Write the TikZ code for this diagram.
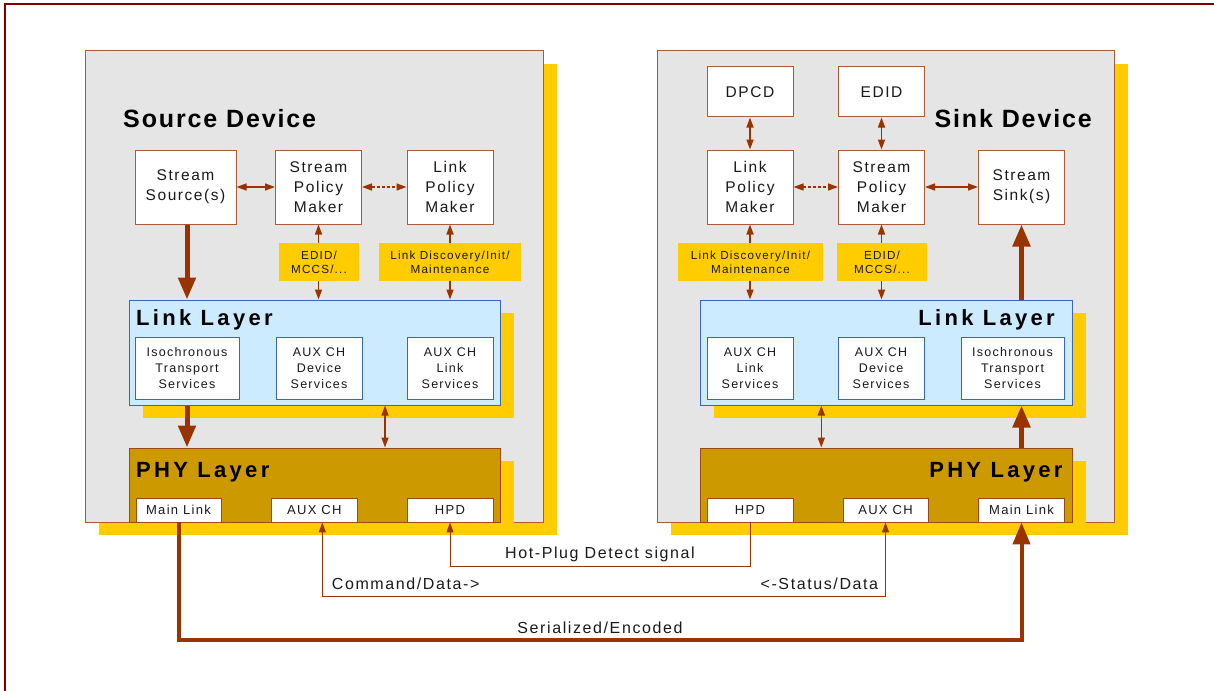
\documentclass[tikz,border=0pt]{standalone}
\usepackage{fontspec}
\setmainfont{Liberation Sans}
\newfontfamily\labelfont[LetterSpace=10]{Liberation Sans}
\newfontfamily\titlefont[LetterSpace=7.5]{Liberation Sans}
\newfontfamily\layerfont[LetterSpace=15]{Liberation Sans}
\usetikzlibrary{arrows.meta, positioning, calc, shadows}

\definecolor{framered}{RGB}{128,0,0}
\definecolor{devgray}{RGB}{229,229,229}
\definecolor{devedge}{RGB}{170,90,55}
\definecolor{goldshadow}{RGB}{255,204,0}
\definecolor{linkblue}{RGB}{204,235,255}
\definecolor{linkedge}{RGB}{60,100,190}
\definecolor{phygold}{RGB}{204,153,0}
\definecolor{phyedge}{RGB}{160,70,20}
\definecolor{arrowbrown}{RGB}{153,51,0}
\definecolor{textgray}{RGB}{25,25,25}

\tikzset{
  wh/.style 2 args={minimum width=#1pt, minimum height=#2pt},
  goldcast/.style={general shadow={shadow xshift=14pt, shadow yshift=-13pt, fill=goldshadow, draw=none}},
  device/.style={draw=devedge, fill=devgray, line width=1pt, inner sep=0pt, goldcast},
  linklayer/.style={draw=linkedge, fill=linkblue, line width=1pt, inner sep=0pt, goldcast},
  phylayer/.style={draw=phyedge, fill=phygold, line width=1pt, inner sep=0pt, goldcast},
  unit/.style={draw=devedge, fill=white, line width=1pt, inner sep=0pt, align=center,
    text=textgray, font=\labelfont\fontsize{15.5}{20}\selectfont},
  service/.style={draw=linkedge, fill=white, line width=1pt, inner sep=0pt, align=center,
    text=textgray, font=\labelfont\fontsize{12.5}{16.3}\selectfont},
  pin/.style={draw=phyedge, fill=white, line width=0.8pt, inner sep=0pt,
    text=textgray, font=\labelfont\fontsize{13}{15}\selectfont},
  tag/.style={fill=goldshadow, inner sep=0pt, align=center,
    text=textgray, font=\labelfont\fontsize{11.7}{14}\selectfont},
  devtitle/.style={inner sep=0pt, font=\titlefont\bfseries\fontsize{25}{30}\selectfont},
  layertitle/.style={inner sep=0pt, font=\layerfont\bfseries\fontsize{22}{26}\selectfont},
  signal/.style={inner sep=0pt, text=textgray, font=\labelfont\fontsize{16}{19}\selectfont},
  link/.style={draw=arrowbrown, line width=1.5pt, {Triangle[length=10pt, width=7pt]}-{Triangle[length=10pt, width=7pt]}},
  softlink/.style={link, dash pattern=on 3pt off 2pt},
  bus/.style={draw=arrowbrown, line width=1pt},
  stream/.style={draw=arrowbrown, line width=5pt, -{Triangle[length=22pt, width=17pt]}},
}

\begin{document}
\begin{tikzpicture}[x=1pt, y=-1pt]
  \useasboundingbox (0,0) rectangle (1214,690);
  \draw[framered, line width=2.5pt] (1220,4) -- (5,4) -- (5,700);

  % source side
  \node[device, wh={458}{471}] (srcdev) at (314,286.5) {};
  \node[devtitle, anchor=base west] (srctitle) at (123,128) {Source Device};
  \node[unit, wh={101}{74}] (ssrc) at (185.5,187) {Stream\\Source(s)};
  \node[unit, wh={86}{74}] (sspm) at (318.5,187) {Stream\\Policy\\Maker};
  \node[unit, wh={86}{74}] (slpm) at (450,187) {Link\\Policy\\Maker};

  \node[linklayer, wh={371}{105}] (slinkl) at (314.5,352.5) {};
  \node[layertitle, anchor=base west] (slinkt) at (136,325) {Link Layer};
  \node[service, wh={104}{62}] (siso) at (187,368) {Isochronous\\Transport\\Services};
  \node[service, wh={86}{62}] (sauxd) at (319,368) {AUX CH\\Device\\Services};
  \node[service, wh={86}{62}] (sauxl) at (450,368) {AUX CH\\Link\\Services};

  \node[phylayer, wh={371}{74}] (sphy) at (314.5,485) {};
  \node[layertitle, anchor=base west] (sphyt) at (136,477.7) {PHY Layer};
  \node[pin, wh={85}{24}] (smain) at (178.5,510) {Main Link};
  \node[pin, wh={86}{24}] (saux) at (314.3,510) {AUX CH};
  \node[pin, wh={86}{24}] (shpd) at (450,510) {HPD};

  \draw[link] (ssrc.east) -- (sspm.west);
  \draw[softlink] (sspm.east) -- (slpm.west);
  \draw[link] (sspm.south) -- (sspm.south |- slinkl.north);
  \draw[link] (slpm.south) -- (slpm.south |- slinkl.north);
  \node[tag, wh={80}{38}] (sedidtag) at (319,262) {EDID/\\MCCS/...};
  \node[tag, wh={142}{38}] (slinktag) at (450,262) {Link Discovery/Init/\\Maintenance};
  \draw[stream] ([xshift=1.5pt]ssrc.south) -- ([xshift=1.5pt]ssrc.south |- slinkl.north);
  \draw[stream] (siso.south |- slinkl.south) -- (siso.south |- sphy.north);
  \draw[link] (385,0 |- slinkl.south) -- (385,0 |- sphy.north);

  % sink side
  \node[device, wh={457}{471}] (snkdev) at (885.5,286.5) {};
  \node[devtitle, anchor=base east] (snktitle) at (1092,127.5) {Sink Device};
  \node[unit, wh={86}{50}] (dpcd) at (750,92) {DPCD};
  \node[unit, wh={86}{50}] (edid) at (881.5,92) {EDID};
  \node[unit, wh={86}{74}] (klpm) at (750,187) {Link\\Policy\\Maker};
  \node[unit, wh={86}{74}] (kspm) at (881.5,187) {Stream\\Policy\\Maker};
  \node[unit, wh={86}{74}] (ksink) at (1021.5,187) {Stream\\Sink(s)};

  \node[linklayer, wh={372}{105}] (klinkl) at (886,352.5) {};
  \node[layertitle, anchor=base east] (klinkt) at (1055,325) {Link Layer};
  \node[service, wh={86}{62}] (kauxl) at (750,368) {AUX CH\\Link\\Services};
  \node[service, wh={86}{62}] (kauxd) at (881,368) {AUX CH\\Device\\Services};
  \node[service, wh={103}{62}] (kiso) at (1012.5,368) {Isochronous\\Transport\\Services};

  \node[phylayer, wh={372}{74}] (kphy) at (886,485) {};
  \node[layertitle, anchor=base east] (kphyt) at (1062.7,477.7) {PHY Layer};
  \node[pin, wh={86}{24}] (khpd) at (750,510) {HPD};
  \node[pin, wh={85}{24}] (kaux) at (885.5,510) {AUX CH};
  \node[pin, wh={86}{24}] (kmain) at (1021.5,510) {Main Link};

  \draw[link] (dpcd.south) -- (klpm.north);
  \draw[link] (edid.south) -- (kspm.north);
  \draw[softlink] (klpm.east) -- (kspm.west);
  \draw[link] (kspm.east) -- (ksink.west);
  \draw[link] (klpm.south) -- (klpm.south |- klinkl.north);
  \draw[link] (kspm.south) -- (kspm.south |- klinkl.north);
  \node[tag, wh={145}{38}] (klinktag) at (750.5,262) {Link Discovery/Init/\\Maintenance};
  \node[tag, wh={90}{38}] (kedidtag) at (882,262) {EDID/\\MCCS/...};
  \draw[stream] (ksink.south |- klinkl.north) -- (ksink.south);
  \draw[stream] (kmain.south |- kphy.north) -- (kmain.south |- klinkl.south);
  \draw[link] (821.3,0 |- klinkl.south) -- (821.3,0 |- kphy.north);

  % cables between the two devices
  \coordinate (sauxtap) at ([xshift=8pt]saux.south);
  \draw[bus, {Triangle[length=10pt, width=7pt]}-] (shpd.south) |- (khpd.south |- 0,566) -- (khpd.south);
  \draw[bus, {Triangle[length=10pt, width=7pt]}-{Triangle[length=10pt, width=7pt]}]
    (sauxtap) |- (kaux.south |- 0,596.7) -- (kaux.south);
  \draw[stream, line width=4pt] (smain.south) |- (kmain.south |- 0,640) -- (kmain.south);
  \node[signal, anchor=base] (hpdlbl) at (600,558) {Hot-Plug Detect signal};
  \node[signal, anchor=base west] (cmdlbl) at (331.7,589) {Command/Data->};
  \node[signal, anchor=base east] (statlbl) at (878.3,589) {<-Status/Data};
  \node[signal, anchor=base] (serlbl) at (600,633) {Serialized/Encoded};
\end{tikzpicture}
\end{document}
